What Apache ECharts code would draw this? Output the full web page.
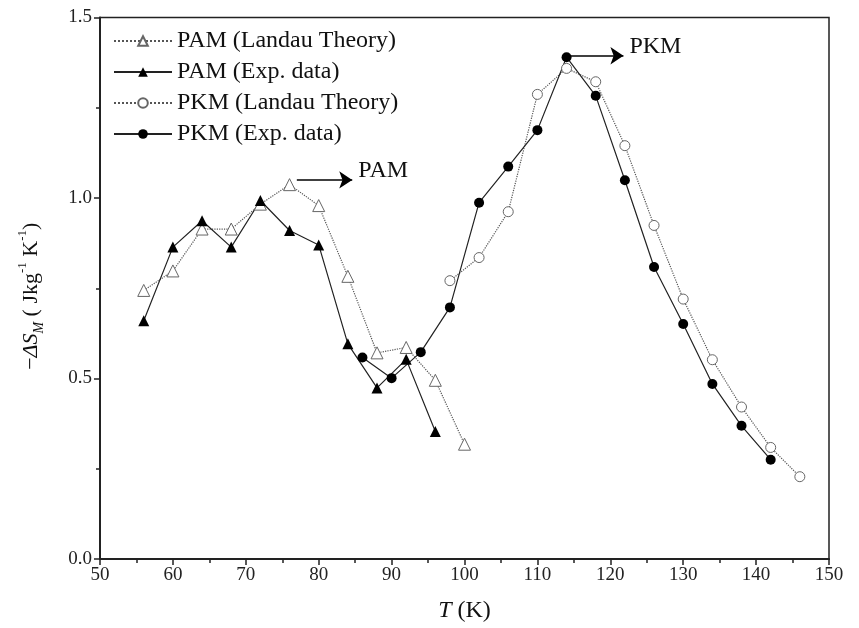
<!DOCTYPE html>
<html>
<head>
<meta charset="utf-8">
<script src="https://cdn.jsdelivr.net/npm/echarts@6/dist/echarts.min.js"></script>
<style>
  html, body { margin: 0; padding: 0; background: #fff; }
  #chart { width: 859px; height: 628px; }
</style>
</head>
<body>
<div id="chart"></div>
<script>
  // PAM data
  const pamT = [56, 60, 64, 68, 72, 76, 80, 84, 88, 92, 96, 100];
  const pamLandau = [0.744, 0.798, 0.914, 0.914, 0.983, 1.037, 0.979, 0.783, 0.571, 0.586, 0.495, 0.318];
  const pamExpT = [56, 60, 64, 68, 72, 76, 80, 84, 88, 92, 96];
  const pamExp = [0.66, 0.864, 0.937, 0.864, 0.993, 0.910, 0.870, 0.596, 0.474, 0.553, 0.353];

  // PKM data
  const pkmLandauT = [98, 102, 106, 110, 114, 118, 122, 126, 130, 134, 138, 142, 146];
  const pkmLandau = [0.771, 0.835, 0.962, 1.287, 1.359, 1.322, 1.145, 0.924, 0.720, 0.552, 0.421, 0.309, 0.228];
  const pkmExpT = [86, 90, 94, 98, 102, 106, 110, 114, 118, 122, 126, 130, 134, 138, 142];
  const pkmExp = [0.558, 0.501, 0.573, 0.697, 0.987, 1.087, 1.188, 1.390, 1.283, 1.049, 0.809, 0.651, 0.485, 0.369, 0.275];

  // arrows [startT, endT, value]
  const pamArrow = [77, 84.6, 1.05];
  const pkmArrow = [114.2, 121.8, 1.394];

  const zip = (xs, ys) => xs.map((x, i) => [x, ys[i]]);
  const serif = 'Liberation Serif';

  const chart = echarts.init(document.getElementById('chart'));

  function arrow(a, text) {
    return {
      silent: true,
      symbol: ['none', 'arrow'],
      symbolSize: 13,
      lineStyle: { color: '#000', type: 'solid', width: 1.5 },
      label: {
        show: true, position: 'end', formatter: text, distance: 6,
        fontFamily: serif, fontSize: 24, color: '#111', offset: [0, -9]
      },
      data: [[{ coord: [a[0], a[2]] }, { coord: [a[1], a[2]] }]]
    };
  }

  chart.setOption({
    animation: false,
    backgroundColor: '#fff',
    grid: {
      left: 100, right: 30, top: 17.5, bottom: 68.5,
      show: true, borderColor: '#222', borderWidth: 1.5
    },
    legend: {
      orient: 'vertical',
      left: 108, top: 24,
      itemWidth: 58, itemHeight: 12, itemGap: 7,
      textStyle: { fontFamily: serif, fontSize: 24, color: '#111' },
      data: ['PAM (Landau Theory)', 'PAM (Exp. data)', 'PKM (Landau Theory)', 'PKM (Exp. data)']
    },
    xAxis: {
      type: 'value', min: 50, max: 150, interval: 10,
      name: '{i|T} (K)', nameLocation: 'middle', nameGap: 40,
      nameTextStyle: {
        fontFamily: serif, fontSize: 24, color: '#111',
        rich: { i: { fontFamily: serif, fontSize: 24, fontStyle: 'italic', color: '#111' } }
      },
      axisLine: { onZero: false, lineStyle: { color: '#222', width: 2 } },
      axisTick: { length: 6, lineStyle: { color: '#222', width: 1.5 } },
      minorTick: { show: true, splitNumber: 2, length: 4, lineStyle: { color: '#222', width: 1.5 } },
      axisLabel: { fontFamily: serif, fontSize: 19, color: '#222', margin: 7 },
      splitLine: { show: false }
    },
    yAxis: {
      type: 'value', min: 0, max: 1.5, interval: 0.5,
      name: '−{i|ΔS}{sub|M} ( Jkg{sup|-1} K{sup|-1})', nameLocation: 'middle', nameGap: 54,
      nameTextStyle: {
        fontFamily: serif, fontSize: 22, color: '#111', lineHeight: 30,
        padding: [0, 16, 0, 0],
        rich: {
          i: { fontFamily: serif, fontSize: 22, fontStyle: 'italic', color: '#111', lineHeight: 30 },
          sub: { fontFamily: serif, fontSize: 14, fontStyle: 'italic', color: '#111', verticalAlign: 'bottom', lineHeight: 30 },
          sup: { fontFamily: serif, fontSize: 13, color: '#111', verticalAlign: 'top', lineHeight: 30 }
        }
      },
      axisLine: { onZero: false, lineStyle: { color: '#222', width: 2 } },
      axisTick: { length: 6, lineStyle: { color: '#222', width: 1.5 } },
      minorTick: { show: true, splitNumber: 2, length: 4, lineStyle: { color: '#222', width: 1.5 } },
      axisLabel: { fontFamily: serif, fontSize: 19, color: '#222', margin: 8, formatter: v => v.toFixed(1) },
      splitLine: { show: false }
    },
    series: [
      {
        name: 'PAM (Landau Theory)', type: 'line', data: zip(pamT, pamLandau),
        symbol: 'triangle', symbolSize: 12,
        lineStyle: { color: '#555', width: 1.2, type: 'dotted' },
        itemStyle: { color: '#fff', borderColor: '#666', borderWidth: 1 }
      },
      {
        name: 'PAM (Exp. data)', type: 'line', data: zip(pamExpT, pamExp),
        symbol: 'triangle', symbolSize: 11,
        lineStyle: { color: '#222', width: 1.2, type: 'solid' },
        itemStyle: { color: '#000', borderColor: '#000', borderWidth: 0 },
        markLine: arrow(pamArrow, 'PAM')
      },
      {
        name: 'PKM (Landau Theory)', type: 'line', data: zip(pkmLandauT, pkmLandau),
        symbol: 'circle', symbolSize: 10,
        lineStyle: { color: '#555', width: 1.2, type: 'dotted' },
        itemStyle: { color: '#fff', borderColor: '#666', borderWidth: 1 }
      },
      {
        name: 'PKM (Exp. data)', type: 'line', data: zip(pkmExpT, pkmExp),
        symbol: 'circle', symbolSize: 10,
        lineStyle: { color: '#222', width: 1.2, type: 'solid' },
        itemStyle: { color: '#000', borderColor: '#000', borderWidth: 0 },
        markLine: arrow(pkmArrow, 'PKM')
      }
    ]
  });
</script>
</body>
</html>
